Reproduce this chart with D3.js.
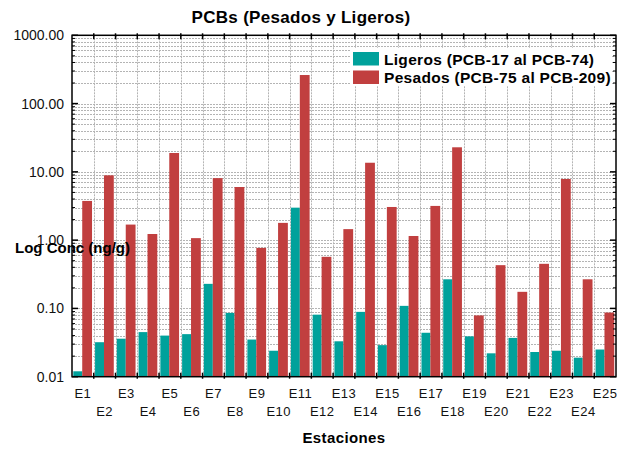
<!DOCTYPE html>
<html>
<head>
<meta charset="utf-8">
<script src="https://cdn.jsdelivr.net/npm/d3@7"></script>
<style>
  body { margin: 0; background: #fff; }
  text { font-family: "Liberation Sans", Arial, sans-serif; }
</style>
</head>
<body>
<div id="chart"></div>
<script>
// data (ng/g)
const estaciones = ["E1","E2","E3","E4","E5","E6","E7","E8","E9","E10","E11","E12","E13",
                    "E14","E15","E16","E17","E18","E19","E20","E21","E22","E23","E24","E25"];
const ligeros = [0.012, 0.032, 0.036, 0.045, 0.040, 0.042, 0.229, 0.086, 0.035, 0.024, 2.99, 0.081, 0.033,
                 0.089, 0.029, 0.109, 0.044, 0.267, 0.039, 0.022, 0.037, 0.023, 0.024, 0.019, 0.025];
const pesados = [3.75, 8.9, 1.69, 1.23, 18.9, 1.07, 8.1, 6.0, 0.77, 1.79, 262, 0.57, 1.45,
                 13.6, 3.06, 1.15, 3.17, 22.9, 0.079, 0.43, 0.175, 0.45, 7.87, 0.267, 0.087];
const yTicks = [0.01, 0.1, 1, 10, 100, 1000];
const series = [
  { name: "Ligeros (PCB-17 al PCB-74)", values: ligeros, color: "#00a19b" },
  { name: "Pesados (PCB-75 al PCB-209)", values: pesados, color: "#c13f3f" }
];

const width = 621, height = 450;
const margin = { top: 35.3, right: 5, bottom: 73.3, left: 72 };

const svg = d3.select("#chart").append("svg")
  .attr("width", width)
  .attr("height", height);

const x = d3.scaleBand()
  .domain(estaciones)
  .range([margin.left, width - margin.right])
  .padding(0);

const y = d3.scaleLog()
  .domain([0.01, 1000])
  .range([height - margin.bottom, margin.top]);

const x0 = margin.left, x1 = width - margin.right;
const y0 = height - margin.bottom, y1 = margin.top;

// minor values for grid (2..9 in each decade) plus decades
const gridVals = [];
yTicks.slice(0, -1).forEach(d => {
  for (let k = 1; k <= 9; k++) gridVals.push(d * k);
});
gridVals.push(1000);

const grid = svg.append("g").attr("stroke", "#b4b4b4").attr("stroke-dasharray", "2,1").attr("stroke-width", 1);
grid.selectAll("line.h")
  .data(gridVals.filter(v => v > 0.01 && v < 1000))
  .join("line")
  .attr("class", "h")
  .attr("x1", x0).attr("x2", x1)
  .attr("y1", d => Math.round(y(d)) + 0.5)
  .attr("y2", d => Math.round(y(d)) + 0.5);
grid.selectAll("line.v")
  .data(estaciones.slice(1))
  .join("line")
  .attr("class", "v")
  .attr("x1", d => Math.round(x(d)) + 0.5)
  .attr("x2", d => Math.round(x(d)) + 0.5)
  .attr("y1", y1).attr("y2", y0);

// bars
const bw = x.bandwidth();
const offsets = [[0.06, 0.41], [0.47, 0.45]];
series.forEach((s, i) => {
  svg.append("g")
    .selectAll("rect")
    .data(s.values)
    .join("rect")
    .attr("x", (d, j) => x(estaciones[j]) + bw * offsets[i][0])
    .attr("width", bw * offsets[i][1])
    .attr("y", d => y(d))
    .attr("height", d => y0 - y(d))
    .attr("fill", s.color);
});

// frame
svg.append("rect")
  .attr("x", x0).attr("y", y1)
  .attr("width", x1 - x0).attr("height", y0 - y1)
  .attr("fill", "none")
  .attr("stroke", "#000")
  .attr("stroke-width", 1.5);

// left and right ticks
const minorVals = gridVals.filter(v => !yTicks.includes(v));
const ticks = svg.append("g").attr("stroke", "#000").attr("stroke-width", 1);
[[x0, 1], [x1, -1]].forEach(([xx, dir]) => {
  ticks.append("g").selectAll("line")
    .data(yTicks)
    .join("line")
    .attr("x1", xx).attr("x2", xx + dir * 6)
    .attr("y1", d => y(d)).attr("y2", d => y(d))
    .attr("stroke-width", 1.5);
  ticks.append("g").selectAll("line")
    .data(minorVals)
    .join("line")
    .attr("x1", xx).attr("x2", xx + dir * 3)
    .attr("y1", d => y(d)).attr("y2", d => y(d));
});
// top and bottom ticks at band boundaries
[[y0, -1], [y1, 1]].forEach(([yy, dir]) => {
  ticks.append("g").selectAll("line")
    .data(estaciones.slice(1))
    .join("line")
    .attr("x1", d => x(d)).attr("x2", d => x(d))
    .attr("y1", yy - dir * 2).attr("y2", yy + dir * 4)
    .attr("stroke-width", 1.5);
});

// y tick labels
svg.append("g")
  .selectAll("text")
  .data(yTicks)
  .join("text")
  .attr("x", 64)
  .attr("y", d => y(d) + 5)
  .attr("text-anchor", "end")
  .attr("font-size", 14)
  .attr("fill", "#111")
  .text(d => d3.format(".2f")(d));

// x tick labels, alternate rows
svg.append("g")
  .selectAll("text")
  .data(estaciones)
  .join("text")
  .attr("x", d => x(d) + bw / 2)
  .attr("y", (d, i) => i % 2 === 0 ? 398 : 415.5)
  .attr("text-anchor", "middle")
  .attr("font-size", 13)
  .attr("letter-spacing", 0.5)
  .attr("fill", "#111")
  .text(d => d);

// titles
svg.append("text")
  .attr("x", 301).attr("y", 23)
  .attr("text-anchor", "middle")
  .attr("font-size", 17)
  .attr("font-weight", "bold")
  .attr("letter-spacing", 0.3)
  .text("PCBs (Pesados y Ligeros)");

svg.append("text")
  .attr("x", 15).attr("y", 253)
  .attr("font-size", 15)
  .attr("font-weight", "bold")
  .text("Log Conc (ng/g)");

svg.append("text")
  .attr("x", (x0 + x1) / 2).attr("y", 443)
  .attr("text-anchor", "middle")
  .attr("font-size", 15)
  .attr("font-weight", "bold")
  .attr("letter-spacing", 0.4)
  .text("Estaciones");

// legend
const legend = svg.append("g");
legend.append("rect")
  .attr("x", 350).attr("y", 48)
  .attr("width", 262).attr("height", 38)
  .attr("fill", "#fff");
series.forEach((s, i) => {
  legend.append("rect")
    .attr("x", 353).attr("y", 52 + i * 18.5)
    .attr("width", 26).attr("height", 13.5)
    .attr("fill", s.color);
  legend.append("text")
    .attr("x", 384).attr("y", 65 + i * 17.7)
    .attr("font-size", 15.5)
    .attr("font-weight", "bold")
    .attr("letter-spacing", 0.3)
    .text(s.name);
});
</script>
</body>
</html>
